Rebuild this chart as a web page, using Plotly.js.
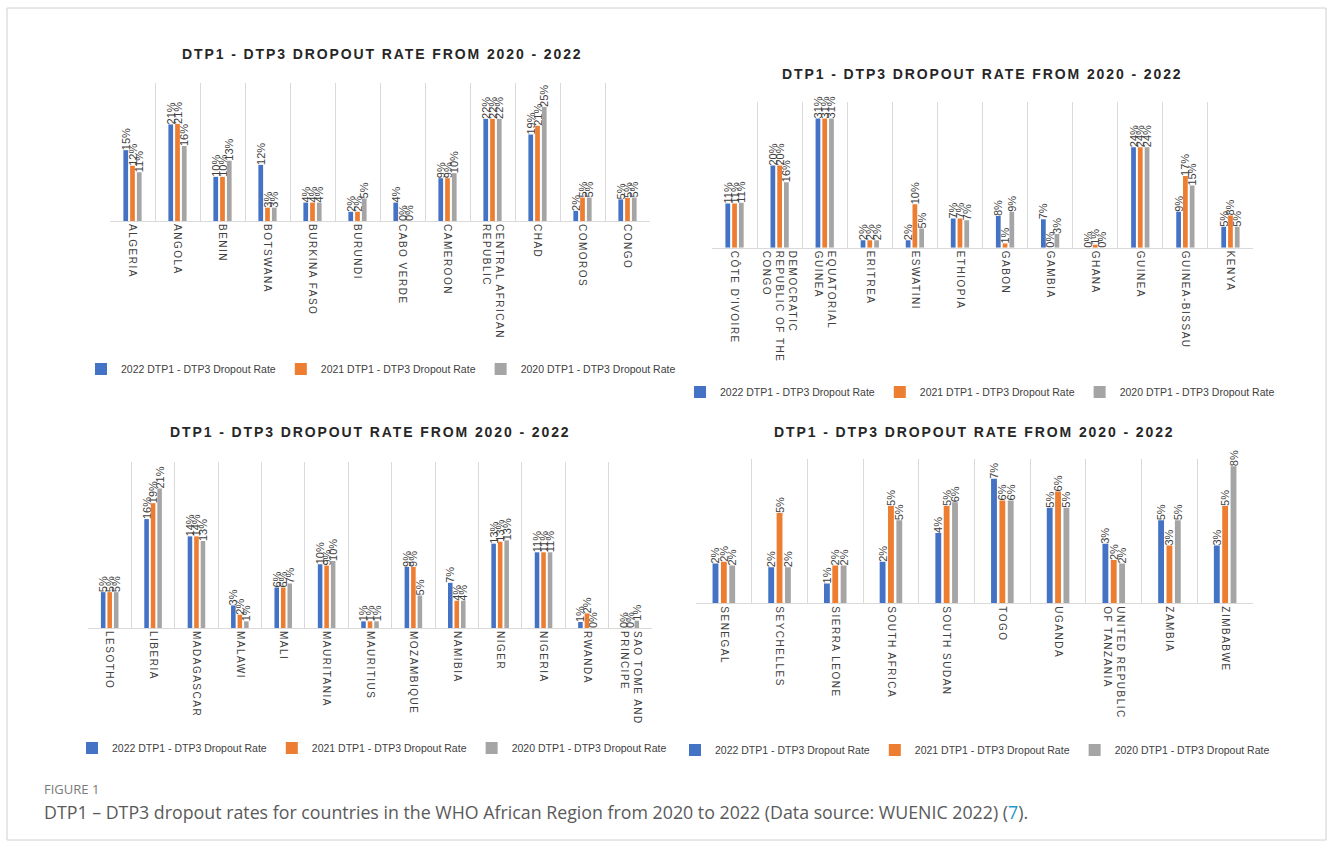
<!DOCTYPE html>
<html>
<head>
<meta charset="utf-8">
<script src="https://cdn.plot.ly/plotly-3.0.1.min.js"></script>
<style>
  html, body { margin: 0; padding: 0; background: #ffffff; }
  #chart { width: 1333px; height: 847px; }
</style>
</head>
<body>
<div id="chart"></div>
<script>
// ---------- DATA ----------
const seriesNames = ["2022 DTP1 - DTP3 Dropout Rate", "2021 DTP1 - DTP3 Dropout Rate", "2020 DTP1 - DTP3 Dropout Rate"];
const panelTitle = "DTP1 - DTP3 DROPOUT RATE FROM 2020 - 2022";

const countries1 = ["ALGERIA", "ANGOLA", "BENIN", "BOTSWANA", "BURKINA FASO", "BURUNDI", "CABO VERDE", "CAMEROON", "CENTRAL AFRICAN<br>REPUBLIC", "CHAD", "COMOROS", "CONGO"];
const p1_2022 = [15.4, 21.0, 9.6, 12.2, 4.0, 2.0, 4.0, 9.3, 22.2, 18.8, 2.2, 4.7];
const p1_2021 = [12.0, 21.1, 9.6, 2.9, 4.0, 2.0, 0.0, 9.3, 22.2, 20.7, 5.1, 5.0];
const p1_2020 = [10.6, 16.3, 13.1, 2.9, 4.0, 4.9, 0.0, 10.4, 22.2, 24.8, 5.1, 5.1];

const countries2 = ["CÔTE D'IVOIRE", "DEMOCRATIC<br>REPUBLIC OF THE<br>CONGO", "EQUATORIAL<br>GUINEA", "ERITREA", "ESWATINI", "ETHIOPIA", "GABON", "GAMBIA", "GHANA", "GUINEA", "GUINEA-BISSAU", "KENYA"];
const p2_2022 = [10.6, 19.7, 31.0, 1.8, 1.8, 7.0, 7.6, 6.8, 0.0, 24.1, 8.6, 5.0];
const p2_2021 = [10.6, 19.7, 31.0, 1.8, 10.4, 7.0, 1.0, 0.0, 0.7, 24.1, 17.2, 7.7];
const p2_2020 = [10.8, 15.7, 31.0, 1.8, 4.6, 6.6, 8.6, 3.3, 0.0, 24.1, 14.9, 5.0];

const countries3 = ["LESOTHO", "LIBERIA", "MADAGASCAR", "MALAWI", "MALI", "MAURITANIA", "MAURITIUS", "MOZAMBIQUE", "NAMIBIA", "NIGER", "NIGERIA", "RWANDA", "SAO TOME AND<br>PRINCIPE"];
const p3_2022 = [5.4, 16.4, 13.8, 3.4, 6.1, 9.6, 1.0, 9.2, 6.8, 12.7, 11.4, 0.9, 0.0];
const p3_2021 = [5.4, 18.8, 13.8, 2.0, 6.1, 9.4, 1.0, 9.2, 4.1, 13.0, 11.4, 2.2, 0.0];
const p3_2020 = [5.4, 21.0, 13.1, 1.0, 6.7, 10.1, 1.0, 4.9, 4.1, 13.2, 11.4, 0.0, 1.1];

const countries4 = ["SENEGAL", "SEYCHELLES", "SIERRA LEONE", "SOUTH AFRICA", "SOUTH SUDAN", "TOGO", "UGANDA", "UNITED REPUBLIC<br>OF TANZANIA", "ZAMBIA", "ZIMBABWE"];
const p4_2022 = [2.2, 2.0, 1.1, 2.3, 3.9, 6.9, 5.3, 3.3, 4.6, 3.2];
const p4_2021 = [2.3, 5.0, 2.1, 5.4, 5.4, 5.7, 6.2, 2.4, 3.2, 5.4];
const p4_2020 = [2.1, 2.0, 2.1, 4.6, 5.6, 5.7, 5.3, 2.2, 4.6, 7.6];

const figureLabel = "FIGURE 1";
const captionText = "DTP1 – DTP3 dropout rates for countries in the WHO African Region from 2020 to 2022 (Data source: WUENIC 2022) (";
const captionRef = "7";
const captionEnd = ").";

// ---------- STYLE ----------
const W = 1333, H = 847;
const colors = ["#4472C4", "#ED7D31", "#A5A5A5"];
const sans = '"Liberation Sans", Arial, sans-serif';
const px = x => x / W;
const py = y => 1 - y / H;

const panels = [
  {cats: countries1, vals: [p1_2022, p1_2021, p1_2020], x0: 110, x1: 650, yTop: 83,    yBot: 221,   ymax: 30, title: [382, 54], leg: [381, 369]},
  {cats: countries2, vals: [p2_2022, p2_2021, p2_2020], x0: 712, x1: 1253, yTop: 101.7, yBot: 247.7, ymax: 35, title: [982, 74], leg: [980, 392]},
  {cats: countries3, vals: [p3_2022, p3_2021, p3_2020], x0: 88,  x1: 652, yTop: 462,   yBot: 628,   ymax: 25, title: [370, 432], leg: [372, 748]},
  {cats: countries4, vals: [p4_2022, p4_2021, p4_2020], x0: 696, x1: 1253, yTop: 459,   yBot: 603.3, ymax: 8,  title: [974, 432], leg: [975, 750]}
];

const traces = [];
const layout = {
  width: W, height: H,
  margin: {l: 0, r: 0, t: 0, b: 0},
  paper_bgcolor: "#ffffff",
  plot_bgcolor: "rgba(0,0,0,0)",
  barmode: "group",
  bargap: 0.55,
  bargroupgap: 0.3,
  font: {family: sans, color: "#404040"},
  annotations: [],
  shapes: []
};

panels.forEach((p, i) => {
  const n = i + 1;
  const xa = n === 1 ? "x" : "x" + n;
  const ya = n === 1 ? "y" : "y" + n;
  const legKey = n === 1 ? "legend" : "legend" + n;
  p.vals.forEach((v, s) => {
    traces.push({
      type: "bar",
      name: seriesNames[s],
      x: p.cats,
      y: v,
      xaxis: xa, yaxis: ya,
      legend: legKey,
      marker: {color: colors[s]},
      text: v.map(d => Math.round(d) + "%"),
      textposition: "outside",
      textangle: -90,
      constraintext: "none",
      cliponaxis: false,
      textfont: {family: sans, size: 11, color: "#404040"},
      hoverinfo: "skip"
    });
  });
  layout[n === 1 ? "xaxis" : "xaxis" + n] = {
    domain: [px(p.x0), px(p.x1)],
    anchor: ya,
    type: "category",
    tickson: "boundaries",
    showgrid: true,
    gridcolor: "#d9d9d9",
    gridwidth: 1,
    showline: true,
    linecolor: "#d9d9d9",
    linewidth: 1,
    ticks: "",
    tickangle: 90,
    tickfont: {family: sans, size: 10, color: "#404040"},
    fixedrange: true
  };
  layout[n === 1 ? "yaxis" : "yaxis" + n] = {
    domain: [py(p.yBot), py(p.yTop)],
    anchor: xa,
    range: [0, p.ymax],
    visible: false,
    showgrid: false,
    zeroline: false,
    fixedrange: true
  };
  layout[legKey] = {
    orientation: "h",
    x: px(p.leg[0]), y: py(p.leg[1]),
    xanchor: "center", yanchor: "middle",
    xref: "paper", yref: "paper",
    font: {family: sans, size: 10.5, color: "#404040"},
    bgcolor: "rgba(0,0,0,0)",
    itemwidth: 30,
    traceorder: "normal"
  };
  layout.annotations.push({
    text: "<b>" + panelTitle + "</b>",
    xref: "paper", yref: "paper",
    x: px(p.title[0]), y: py(p.title[1]),
    xanchor: "center", yanchor: "middle",
    showarrow: false,
    font: {family: sans, size: 14, color: "#262626"}
  });
});

// caption
layout.annotations.push({
  text: figureLabel,
  xref: "paper", yref: "paper",
  x: px(42), y: py(789),
  xanchor: "left", yanchor: "middle",
  showarrow: false,
  font: {family: '"Open Sans", "Noto Sans", sans-serif', size: 13, color: "#7a7a7a"}
});
layout.annotations.push({
  text: captionText + '<span style="color:#1d9bc8">' + captionRef + '</span>' + captionEnd,
  xref: "paper", yref: "paper",
  x: px(42), y: py(812),
  xanchor: "left", yanchor: "middle",
  showarrow: false,
  font: {family: '"Open Sans", "Noto Sans", sans-serif', size: 17.8, color: "#5a5a5a"}
});

// outer frame
layout.shapes.push({
  type: "rect", xref: "paper", yref: "paper",
  x0: px(7), x1: px(1326), y0: py(840), y1: py(8),
  line: {color: "#d0d0d0", width: 1},
  fillcolor: "rgba(0,0,0,0)", layer: "below"
});

Plotly.newPlot("chart", traces, layout, {displayModeBar: false, staticPlot: true}).then(() => {
  document.querySelectorAll(".annotation-text").forEach(t => {
    if (t.textContent.indexOf("DROPOUT RATE FROM") >= 0) {
      t.style.letterSpacing = "1.9px";
    }
  });
  document.querySelectorAll(".xaxislayer-above text").forEach(t => {
    t.style.letterSpacing = "1.5px";
  });
});
</script>
</body>
</html>
